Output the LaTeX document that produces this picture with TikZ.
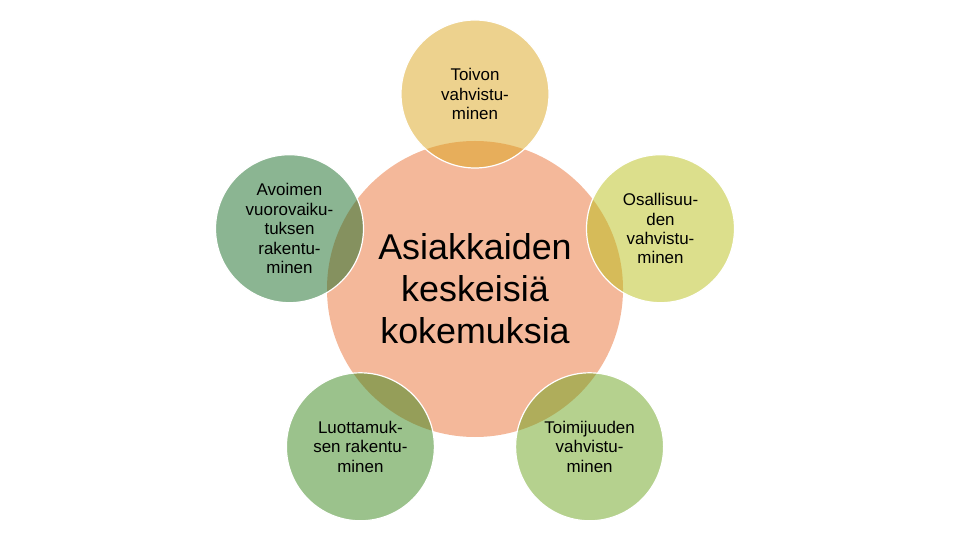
\documentclass[tikz,border=0pt]{standalone}
\usepackage{fontspec}
\setmainfont{Liberation Sans}
\definecolor{hubfill}{RGB}{244,184,154}
\definecolor{hopefill}{RGB}{219,165,29}
\definecolor{partfill}{RGB}{185,191,25}
\definecolor{agencyfill}{RGB}{107,163,29}
\definecolor{trustfill}{RGB}{55,133,25}
\definecolor{openfill}{RGB}{23,107,37}
\begin{document}
\begin{tikzpicture}[x=1bp, y=-1bp]
\tikzstyle{every node} = [circle, inner sep=0cm, align=center]
\tikzstyle{petal} = [minimum size=148bp, fill opacity=.5, text opacity=1, draw=white, draw opacity=1, line width=1.2bp, font=\fontsize{17}{19.5}\selectfont]
\useasboundingbox (0,0) rectangle (957,538);
\node (hub) at (475,289) [minimum size=296bp, fill=hubfill, font=\fontsize{36}{42}\selectfont] {Asiakkaiden\\keskeisiä\\kokemuksia};

\node (hope) at (475,94) [petal, fill=hopefill] {Toivon\\vahvistu-\\minen};
\node (part) at (660.5,228.7) [petal, fill=partfill] {Osallisuu-\\den\\vahvistu-\\minen};
\node (agency) at (589.6,446.8) [petal, fill=agencyfill] {Toimijuuden\\vahvistu-\\minen};
\node (trust) at (360.4,446.8) [petal, fill=trustfill] {Luottamuk-\\sen rakentu-\\minen};
\node (open) at (289.5,228.7) [petal, fill=openfill] {Avoimen\\vuorovaiku-\\tuksen\\rakentu-\\minen};
\end{tikzpicture}
\end{document}
